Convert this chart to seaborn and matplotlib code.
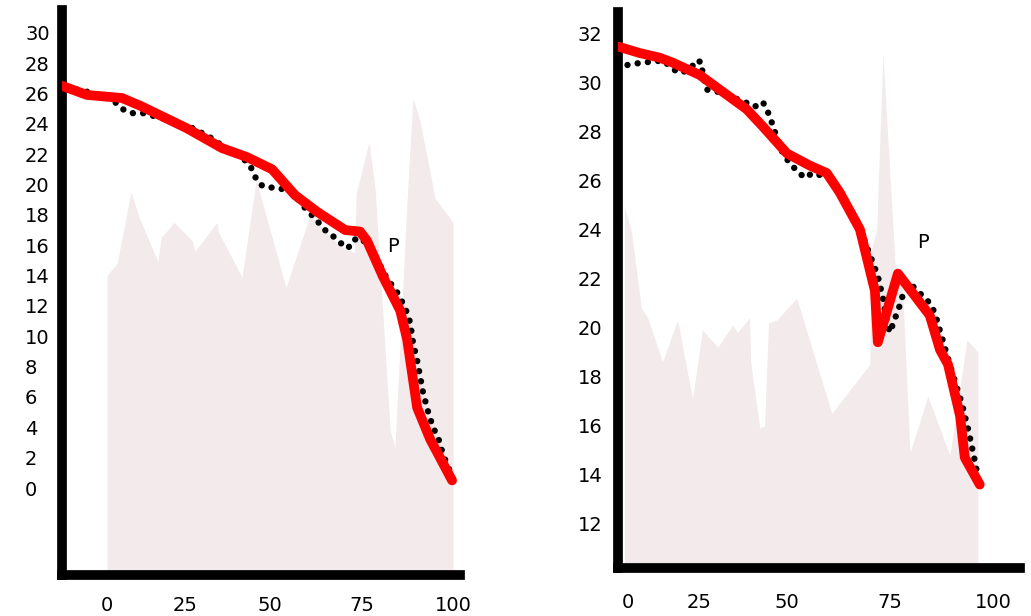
import matplotlib
matplotlib.use("Agg")
import matplotlib.pyplot as plt
import seaborn as sns

# ---- left panel data -------------------------------------------------------
L_BAND_X = [0, 2.9, 6.9, 9.5, 14.7, 15.6, 19.4, 24.6, 25.4, 31.8, 32.1, 39.0,
            43.1, 51.7, 58.7, 67.0, 71.5, 72.0, 75.7, 77.5, 81.8, 83.2, 86.7,
            88.4, 90.5, 94.8, 100]
L_BAND_Y = [14.0, 14.8, 19.5, 17.7, 14.9, 16.5, 17.5, 16.3, 15.6, 17.5, 16.9,
            13.9, 20.3, 13.2, 18.0, 16.0, 15.5, 19.4, 22.8, 19.6, 3.8, 2.7,
            19.0, 25.7, 24.1, 19.1, 17.5]

L_FIT_X = [-13.0, -5.8, 4.3, 9.5, 23.1, 33.2, 40.5, 47.7, 54.3, 60.7, 68.8,
           73.1, 75.1, 79.8, 84.7, 86.7, 89.6, 93.4, 99.7]
L_FIT_Y = [26.5, 25.9, 25.7, 25.2, 23.7, 22.4, 21.8, 21.0, 19.3, 18.2, 17.0,
           16.9, 16.3, 13.9, 11.7, 9.8, 5.3, 3.2, 0.5]

L_OBS_X = [-11.6, -3.5, 0.9, 3.2, 4.9, 7.5, 10.4, 17.0, 24.9, 29.8, 35.0,
           40.5, 41.9, 42.8, 44.2, 46.2, 49.1, 53.5, 58.1, 60.1, 62.1, 63.9,
           65.9, 68.2, 69.7, 70.8, 73.1, 76.0, 80.9, 83.8, 86.1, 87.6, 88.4,
           89.6, 90.5, 91.3, 92.8, 94.2, 95.7, 97.1, 99.1, 100.9]
L_OBS_Y = [26.4, 26.0, 25.6, 25.3, 24.9, 24.7, 24.7, 24.3, 23.7, 23.1, 22.3,
           21.5, 21.0, 20.5, 20.0, 19.8, 19.8, 19.5, 18.2, 17.8, 17.2, 16.8,
           16.5, 16.0, 15.8, 16.3, 16.5, 15.9, 13.8, 12.9, 11.9, 10.9, 9.6,
           8.4, 7.3, 6.3, 5.0, 4.0, 3.3, 2.2, 1.1, 0.0]

L_YTICKS = list(range(0, 31, 2))
L_XTICK_POS = [0, 22.5, 47.1, 73.7, 100]
XTICK_LABELS = ["0", "25", "50", "75", "100"]

# ---- right panel data ------------------------------------------------------
R_BAND_X = [-0.8, 1.1, 3.8, 5.5, 9.6, 13.7, 17.8, 20.5, 24.7, 28.8, 30.1,
            33.4, 33.7, 36.2, 37.5, 38.6, 40.8, 46.3, 55.9, 66.3, 66.8, 68.2,
            69.9, 73.2, 75.1, 77.3, 82.2, 88.2, 92.9, 95.9]
R_BAND_Y = [24.9, 23.9, 20.8, 20.4, 18.6, 20.3, 17.1, 19.9, 19.2, 20.1, 19.8,
            20.4, 18.6, 15.9, 16.0, 20.2, 20.3, 21.2, 16.5, 18.5, 23.2, 24.0,
            31.2, 22.6, 22.1, 14.9, 17.2, 14.8, 19.5, 19.0]

R_FIT_X = [-2.5, 3.3, 8.8, 12.3, 19.7, 25.2, 32.6, 37.0, 43.6, 49.9, 54.5,
           58.1, 63.6, 67.7, 68.5, 74.0, 78.1, 82.7, 85.5, 87.7, 91.0, 92.3,
           96.4]
R_FIT_Y = [31.45, 31.19, 31.0, 30.8, 30.3, 29.7, 28.9, 28.2, 27.1, 26.6, 26.3,
           25.5, 24.0, 21.5, 19.4, 22.2, 21.4, 20.5, 19.1, 18.5, 16.4, 14.7,
           13.6]

R_OBS_X = [0, 4.0, 7.9, 9.6, 13.7, 15.1, 17.5, 18.9, 20.3, 20.5, 21.6, 25.0,
           28.5, 32.0, 34.8, 37.0, 38.1, 39.2, 40.0, 40.8, 42.5, 44.4, 46.3,
           48.5, 50.7, 55.3, 60.8, 62.7, 65.5, 68.5, 69.9, 71.0, 71.8, 74.5,
           75.3, 77.3, 80.0, 82.7, 84.1, 86.8, 89.0, 91.5, 93.3, 95.0, 95.9]
R_OBS_Y = [30.7, 30.8, 30.85, 30.9, 30.4, 30.4, 30.6, 30.9, 30.8, 30.4, 29.7,
           29.6, 29.4, 29.2, 29.0, 29.2, 28.9, 28.5, 28.1, 27.8, 27.1, 26.7,
           26.4, 26.1, 26.3, 26.1, 24.9, 24.4, 23.3, 22.1, 21.2, 20.2, 19.8,
           20.9, 21.3, 21.8, 21.4, 21.0, 20.6, 19.2, 18.1, 16.9, 15.8, 14.6,
           13.9]

R_YTICKS = list(range(12, 33, 2))
R_XTICK_POS = [0, 19.5, 43.6, 71.8, 100]

BAND = "#f2eaeb"
FIT = "#ff0000"
OBS = "#000000"

sns.set_style("white")
plt.rcParams["font.family"] = ["DejaVu Sans"]

fig = plt.figure(figsize=(10.31, 6.16), dpi=100)
ax1 = fig.add_axes([0.0597, 0.0666, 0.3865, 0.9172])
ax2 = fig.add_axes([0.5994, 0.0779, 0.3899, 0.9026])


def panel(ax, bx, by, fx, fy, ox, oy, xlim, ylim, yticks, xtick_pos,
          p_xy, ypad, xpad):
    ax.set_xlim(*xlim)
    ax.set_ylim(*ylim)
    ax.fill_between(bx, by, ylim[0], color=BAND, lw=0, zorder=1)
    # dotted "observed" trace
    sns.lineplot(x=ox, y=oy, ax=ax, color=OBS, lw=4.6, estimator=None,
                 sort=False, zorder=2)
    ax.lines[-1].set_linestyle((0, (0.01, 1.6)))
    ax.lines[-1].set_dash_capstyle("round")
    # thick red fit
    sns.lineplot(x=fx, y=fy, ax=ax, color=FIT, lw=7, estimator=None,
                 sort=False, zorder=3)
    ax.lines[-1].set_solid_joinstyle("round")
    ax.text(*p_xy, "P", fontsize=14, ha="center", va="center", zorder=4,
            color="black")

    ax.set_yticks(yticks)
    ax.set_yticklabels([str(t) for t in yticks])
    ax.set_xticks(xtick_pos)
    ax.set_xticklabels(XTICK_LABELS)
    ax.tick_params(axis="both", length=0, labelsize=14, labelcolor="black")
    ax.tick_params(axis="y", pad=ypad)
    ax.tick_params(axis="x", pad=xpad)
    for lab in ax.get_yticklabels():
        lab.set_horizontalalignment("left")
    for side in ("top", "right"):
        ax.spines[side].set_visible(False)
    for side in ("left", "bottom"):
        ax.spines[side].set_linewidth(7)
        ax.spines[side].set_color("black")
        ax.spines[side].set_capstyle("projecting")
    ax.set_xlabel("")
    ax.set_ylabel("")
    ax.grid(False)


panel(ax1, L_BAND_X, L_BAND_Y, L_FIT_X, L_FIT_Y, L_OBS_X, L_OBS_Y,
      (-13.15, 102.0), (-5.73, 31.5), L_YTICKS, L_XTICK_POS,
      (82.7, 15.9), 26.3, 15)
panel(ax2, R_BAND_X, R_BAND_Y, R_FIT_X, R_FIT_Y, R_OBS_X, R_OBS_Y,
      (-2.6, 107.4), (10.2, 32.86), R_YTICKS, R_XTICK_POS,
      (80.8, 23.45), 28.8, 18)

fig.savefig("out.png", dpi=100, facecolor="white")
